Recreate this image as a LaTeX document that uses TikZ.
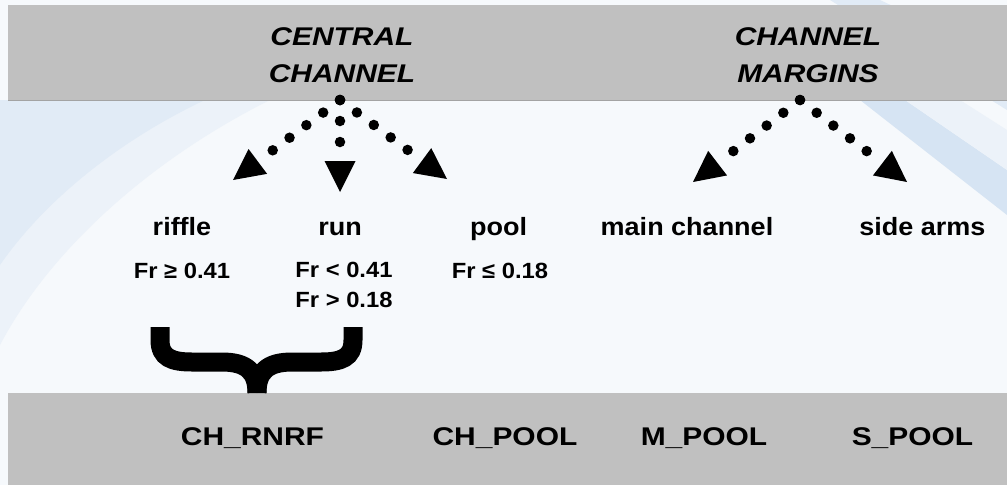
\documentclass[tikz,border=0pt]{standalone}
\usepackage{fontspec}
\setmainfont{Liberation Sans}
\newfontfamily\titlefont{Liberation Sans}[FakeStretch=1.17]
\newfontfamily\labfont{Liberation Sans}[FakeStretch=1.08]
\usetikzlibrary{arrows.meta}
\definecolor{band}{HTML}{C0C0C0}
\definecolor{bandline}{HTML}{A3A3A3}
\definecolor{bgbase}{HTML}{F6F9FC}
\definecolor{swA}{HTML}{E1EBF6}
\definecolor{swB}{HTML}{ECF2F9}
\definecolor{swC}{HTML}{D6E4F3}
\tikzset{
  title/.style={font=\titlefont\bfseries\itshape\fontsize{25.6}{36.7}\selectfont, align=center, inner sep=0pt, text=black},
  lab/.style={font=\labfont\bfseries\fontsize{25}{30}\selectfont, inner sep=0pt, anchor=base, text=black},
  fr/.style={font=\labfont\bfseries\fontsize{22}{30}\selectfont, inner sep=0pt, text=black, align=center},
  code/.style={font=\titlefont\bfseries\fontsize{25.6}{30}\selectfont, inner sep=0pt, anchor=base, text=black},
  dotarrow/.style={line width=10.5pt, line cap=round, dash pattern=on 0pt off 21pt,
    -{Triangle[length=31pt,width=31pt,line width=0pt]}},
  brace/.style={line width=19pt, black}
}
\begin{document}
\begin{tikzpicture}[x=1pt,y=-1pt]
\useasboundingbox (0,0) rectangle (1007,485);
% background
\fill[bgbase] (0,0) rectangle (1007,485);
\fill[swB] (0,100) -- (270,100) .. controls (150,160) and (50,250) .. (0,345) -- cycle;
\fill[swA] (0,100) -- (205,100) .. controls (120,140) and (45,200) .. (0,265) -- cycle;
\fill[swA] (830,0) -- (880,0) -- (1007,60) -- (1007,110) -- cycle;
\fill[swC] (860,100) -- (905,100) -- (1007,170) -- (1007,215) -- cycle;
\fill[swB] (905,100) -- (960,100) -- (1007,130) -- (1007,170) -- cycle;
% bands
\fill[band] (8,5) rectangle (1007,100);
\draw[bandline, line width=1pt] (8,100) -- (1007,100);
\fill[band] (8,393) rectangle (1007,485);
% titles
\node[title] (cc) at (342,55.5) {CENTRAL\\CHANNEL};
\node[title] (cm) at (808,55.5) {CHANNEL\\MARGINS};
% labels
\node[lab] (riffle) at (182,235) {riffle};
\node[lab] (run) at (340,235) {run};
\node[lab] (pool) at (498.5,235) {pool};
\node[lab] (main) at (687,235) {main channel};
\node[lab] (side) at (922.5,235) {side arms};
\node[fr, anchor=base] (frriffle) at (182,278) {Fr ≥ 0.41};
\node[fr] (frrun) at (344,285) {Fr < 0.41\\Fr > 0.18};
\node[fr, anchor=base] (frpool) at (500,278) {Fr ≤ 0.18};
% codes
\node[code] (chrnrf) at (252.5,445) {CH\_RNRF};
\node[code] (chpool) at (505,445) {CH\_POOL};
\node[code] (mpool) at (704,445) {M\_POOL};
\node[code] (spool) at (912.5,445) {S\_POOL};
% arrow coordinates
\coordinate (ccs) at (340,100);
\coordinate (cms) at (800,100);
\coordinate (triffle) at (233,180);
\coordinate (trun) at (340,192);
\coordinate (tpool) at (447,179);
\coordinate (tmain) at (693,182);
\coordinate (tside) at (907,182);
\draw[dotarrow] (ccs) -- (triffle);
\draw[dotarrow] (ccs) -- (trun);
\draw[dotarrow] (ccs) -- (tpool);
\draw[dotarrow] (cms) -- (tmain);
\draw[dotarrow] (cms) -- (tside);
% brace
\draw[brace] (160,327) -- (160,340) .. controls (160,358) and (172,362) .. (192,362) -- (222,362) .. controls (247,362) and (257,372) .. (257,393);
\draw[brace] (353,327) -- (353,340) .. controls (353,358) and (341,362) .. (321,362) -- (292,362) .. controls (267,362) and (257,372) .. (257,393);
\end{tikzpicture}
\end{document}
